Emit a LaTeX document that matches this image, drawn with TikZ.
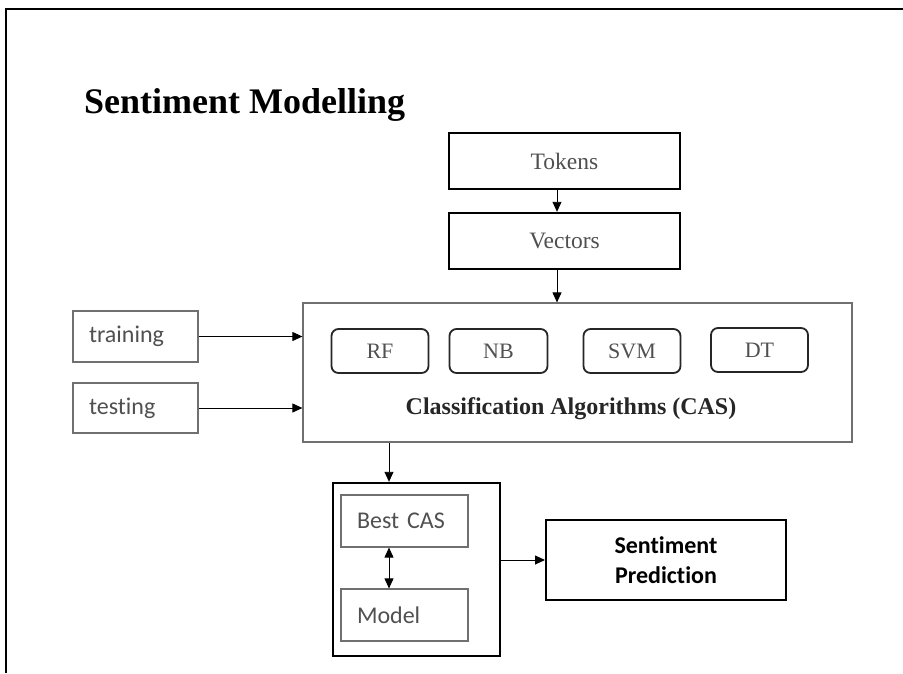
\documentclass[tikz,border=0pt]{standalone}
\usepackage{fontspec}
\setmainfont{Liberation Serif}
\newfontfamily\calfont[Ligatures={NoCommon}]{Carlito}
\usetikzlibrary{arrows.meta}
\definecolor{txtgray}{HTML}{505050}
\definecolor{boxgray}{HTML}{707070}
\begin{document}
\begin{tikzpicture}[x=1pt,y=-1pt,
  thickbox/.style={draw=black,line width=2.4pt,inner sep=0pt},
  thinbox/.style={draw=boxgray,line width=1.2pt,inner sep=0pt},
  serbox/.style={thickbox,minimum width=231pt,minimum height=56pt,font=\fontsize{23.5}{28}\selectfont,text=txtgray},
  algbox/.style={draw=black!85,line width=1.8pt,rounded corners=7pt,minimum width=97pt,minimum height=44pt,inner sep=0pt,font=\fontsize{22}{26}\selectfont,text=txtgray},
  lbox/.style={thinbox,align=left,text width=93pt,inner xsep=16pt,minimum height=51pt,font=\calfont\fontsize{24}{28}\selectfont,text=txtgray},
  arr/.style={-{Triangle[length=10pt,width=9pt]},line width=0.9pt},
  darr/.style={{Triangle[length=10pt,width=9pt]}-{Triangle[length=10pt,width=9pt]},line width=0.9pt}
  ]
\useasboundingbox (0,0) rectangle (903,673);
\fill[white] (0,0) rectangle (903,673);
% outer frame
\draw[line width=2.5pt] (903,9) -- (6,9) -- (6,673);
% title
\node[anchor=base west,inner sep=0pt,font=\bfseries\fontsize{36}{40}\selectfont] (title) at (84,113) {Sentiment Modelling};
% top boxes
\node[serbox] (tok) at (564.5,161) {Tokens};
\node[serbox] (vec) at (564.5,241) {Vectors};
% CAS box
\node[thinbox,minimum width=549pt,minimum height=139pt] (cas) at (577.5,372.5) {};
\node[algbox] (rf) at (380,351) {RF};
\node[algbox,minimum width=98pt] (nb) at (498.5,351) {NB};
\node[algbox] (svm) at (632,351) {SVM};
\node[algbox] (dt) at (759.5,350) {DT};
\node[font=\bfseries\fontsize{24}{28}\selectfont,text=black!85] (castxt) at (571,409) {Classification Algorithms (CAS)};
% inputs
\node[lbox] (trn) at (135.5,336.5) {training};
\node[lbox,minimum height=50pt] (tst) at (135.5,408) {testing};
% best CAS group
\node[thickbox,minimum width=167pt,minimum height=173pt] (bo) at (416.5,569.5) {};
\node[lbox,minimum height=52pt,text width=95pt] (bc) at (404.5,521) {Best CAS};
\node[lbox,minimum height=52pt,text width=95pt] (mo) at (404.5,615) {Model};
% sentiment prediction
\node[thickbox,line width=2pt,minimum width=240pt,minimum height=80pt,align=center,font=\calfont\bfseries\fontsize{24}{30}\selectfont] (sp) at (666,560) {Sentiment\\Prediction};
% connectors
\coordinate (ax1) at (557,0);
\coordinate (ax2) at (389,0);
\draw[arr] (tok.south -| ax1) -- (vec.north -| ax1);
\draw[arr] (vec.south -| ax1) -- (cas.north -| ax1);
\draw[arr] (trn.east) -- (trn.east -| cas.west);
\draw[arr] (tst.east) -- (tst.east -| cas.west);
\draw[arr] (cas.south -| ax2) -- (bo.north -| ax2);
\draw[darr] (bc.south -| ax2) -- (mo.north -| ax2);
\draw[arr] (bo.east |- sp.west) -- (sp.west);
\end{tikzpicture}
\end{document}
